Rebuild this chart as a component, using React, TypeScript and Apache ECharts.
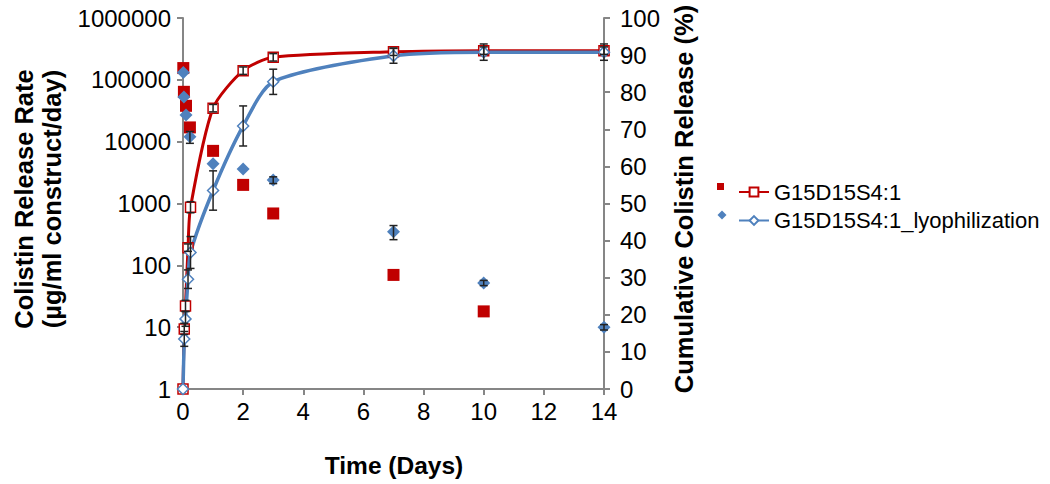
import React, { useEffect, useRef } from "react";
import * as echarts from "echarts";

// ---- data ----
const cumDays = [0, 0.042, 0.083, 0.167, 0.25, 1, 2, 3, 7, 10, 14];
const cumRed = [0, 16.2, 22.4, 38.1, 49, 75.7, 85.8, 89.4, 90.9, 91.2, 91.2];
const cumRedErr = [0, 1.5, 1.5, 1, 1.5, 1, 1, 1, 1, 1, 1];
const cumBlue = [0, 13.5, 18.9, 29.6, 36.8, 53.5, 70.9, 82.8, 89.8, 90.8, 90.8];
const cumBlueErr = [0, 2, 2, 2.5, 4.3, 5.3, 5.4, 3.4, 2, 2.2, 2.2];

const rateDaysRed = [0.01, 0.03, 0.1, 0.23, 1, 2, 3, 7, 10];
const rateRed = [155000, 64000, 38000, 17000, 7100, 2000, 690, 70, 18];
const rateDaysBlue = [0.01, 0.03, 0.1, 0.23, 1, 2, 3, 7, 10, 14];
const rateBlue = [132000, 53000, 27000, 12000, 4400, 3600, 2400, 350, 52, 10];
const rateBlueErr = [0, 0, 0, 2600, 0, 0, 300, 90, 5, 1];

const nameRed = "G15D15S4:1";
const nameBlue = "G15D15S4:1_lyophilization";
const xTicks = { min: 0, max: 14, interval: 2 };
const rightTicks = { min: 0, max: 100, interval: 10 };

const RED = "#C00000";
const BLUE = "#4F81BD";
const AXIS = "#868686";
const FONT = "Arial, 'Liberation Sans', sans-serif";

function errorBarSeries(xs: number[], ys: number[], errs: number[], yAxisIndex: number) {
  const data = xs
    .map((x, i) => [x, ys[i] - errs[i], ys[i] + errs[i], errs[i]])
    .filter((d) => d[3] > 0);
  return {
    type: "custom",
    xAxisIndex: 0,
    yAxisIndex,
    z: 5,
    silent: true,
    encode: { x: 0, y: [1, 2] },
    data,
    renderItem: (params: any, api: any) => {
      const x = api.value(0);
      const lo = api.coord([x, api.value(1)]);
      const hi = api.coord([x, api.value(2)]);
      const c = 4;
      const style = { stroke: "#222", lineWidth: 1.5 };
      return {
        type: "group",
        children: [
          { type: "line", shape: { x1: lo[0], y1: lo[1], x2: hi[0], y2: hi[1] }, style },
          { type: "line", shape: { x1: lo[0] - c, y1: lo[1], x2: lo[0] + c, y2: lo[1] }, style },
          { type: "line", shape: { x1: hi[0] - c, y1: hi[1], x2: hi[0] + c, y2: hi[1] }, style },
        ],
      };
    },
  };
}

export default function App() {
  const ref = useRef<HTMLDivElement>(null);
  useEffect(() => {
    if (!ref.current) return;
    const chart = echarts.init(ref.current, null, { renderer: "svg" });
    const labelStyle = { color: "#000", fontSize: 24, fontFamily: FONT };
    const titleStyle = { fontSize: 25.5, fontWeight: "bold", fontFamily: FONT, fill: "#000", align: "center", verticalAlign: "middle" };
    chart.setOption({
      animation: false,
      grid: { left: 183, right: 446, top: 18, bottom: 95 },
      legend: {
        data: [nameRed, nameBlue],
        orient: "vertical",
        left: 733,
        top: 176,
        itemWidth: 30,
        itemHeight: 11,
        itemGap: 6.5,
        textStyle: { color: "#000", fontSize: 22, fontFamily: FONT, lineHeight: 22 },
      },
      xAxis: {
        type: "value",
        ...xTicks,
        axisLine: { lineStyle: { color: AXIS, width: 2 } },
        axisTick: { lineStyle: { color: AXIS, width: 2 }, length: 6 },
        splitLine: { show: false },
        axisLabel: { ...labelStyle, margin: 10 },
      },
      yAxis: [
        {
          type: "log",
          logBase: 10,
          min: 1,
          max: 1000000,
          splitNumber: 6,
          axisLine: { show: true, lineStyle: { color: AXIS, width: 2 } },
          axisTick: { show: true, lineStyle: { color: AXIS, width: 2 }, length: 6 },
          splitLine: { show: false },
          axisLabel: { ...labelStyle, margin: 12, formatter: (v: number) => String(Math.round(v)) },
        },
        {
          type: "value",
          position: "right",
          ...rightTicks,
          axisLine: { show: true, lineStyle: { color: AXIS, width: 2 } },
          axisTick: { show: true, lineStyle: { color: AXIS, width: 2 }, length: 6 },
          splitLine: { show: false },
          axisLabel: { ...labelStyle, margin: 16 },
        },
      ],
      series: [
        {
          name: nameRed + " rate",
          type: "scatter",
          yAxisIndex: 0,
          symbol: "rect",
          symbolSize: 12,
          itemStyle: { color: RED, opacity: 1 },
          z: 3,
          data: rateDaysRed.map((d, i) => [d, rateRed[i]]),
        },
        {
          name: nameBlue + " rate",
          type: "scatter",
          yAxisIndex: 0,
          symbol: "diamond",
          symbolSize: 13,
          itemStyle: { color: BLUE, opacity: 1 },
          z: 4,
          data: rateDaysBlue.map((d, i) => [d, rateBlue[i]]),
        },
        {
          name: nameRed,
          type: "line",
          yAxisIndex: 1,
          smooth: 0.25,
          symbol: "rect",
          symbolSize: 10,
          showAllSymbol: true,
          lineStyle: { color: RED, width: 3 },
          itemStyle: { color: "#fff", borderColor: RED, borderWidth: 1.5 },
          z: 2,
          data: cumDays.map((d, i) => [d, cumRed[i]]),
        },
        {
          name: nameBlue,
          type: "line",
          yAxisIndex: 1,
          smooth: 0.25,
          symbol: "diamond",
          symbolSize: 11,
          showAllSymbol: true,
          lineStyle: { color: BLUE, width: 3.5 },
          itemStyle: { color: "#fff", borderColor: BLUE, borderWidth: 1.5 },
          z: 2,
          data: cumDays.map((d, i) => [d, cumBlue[i]]),
        },
        errorBarSeries(cumDays, cumRed, cumRedErr, 1),
        errorBarSeries(cumDays, cumBlue, cumBlueErr, 1),
        errorBarSeries(rateDaysBlue, rateBlue, rateBlueErr, 0),
      ],
      graphic: [
        {
          type: "text",
          x: 394,
          y: 465,
          style: { ...titleStyle, text: "Time (Days)", fontSize: 24.5 },
        },
        {
          type: "text",
          x: 24,
          y: 199,
          rotation: Math.PI / 2,
          style: { ...titleStyle, text: "Colistin Release Rate" },
        },
        {
          type: "text",
          x: 52,
          y: 199,
          rotation: Math.PI / 2,
          style: { ...titleStyle, text: "(µg/ml construct/day)" },
        },
        {
          type: "text",
          x: 684,
          y: 199,
          rotation: Math.PI / 2,
          style: { ...titleStyle, text: "Cumulative Colistin Release (%)" },
        },
        {
          type: "rect",
          shape: { x: 717, y: 183, width: 7, height: 7 },
          style: { fill: RED },
        },
        {
          type: "polygon",
          shape: { points: [[722, 210.5], [726.5, 215], [722, 219.5], [717.5, 215]] },
          style: { fill: BLUE },
        },
      ],
    });
    return () => chart.dispose();
  }, []);
  return <div ref={ref} style={{ position: "absolute", left: 0, top: 0, width: 1050, height: 484 }} />;
}
